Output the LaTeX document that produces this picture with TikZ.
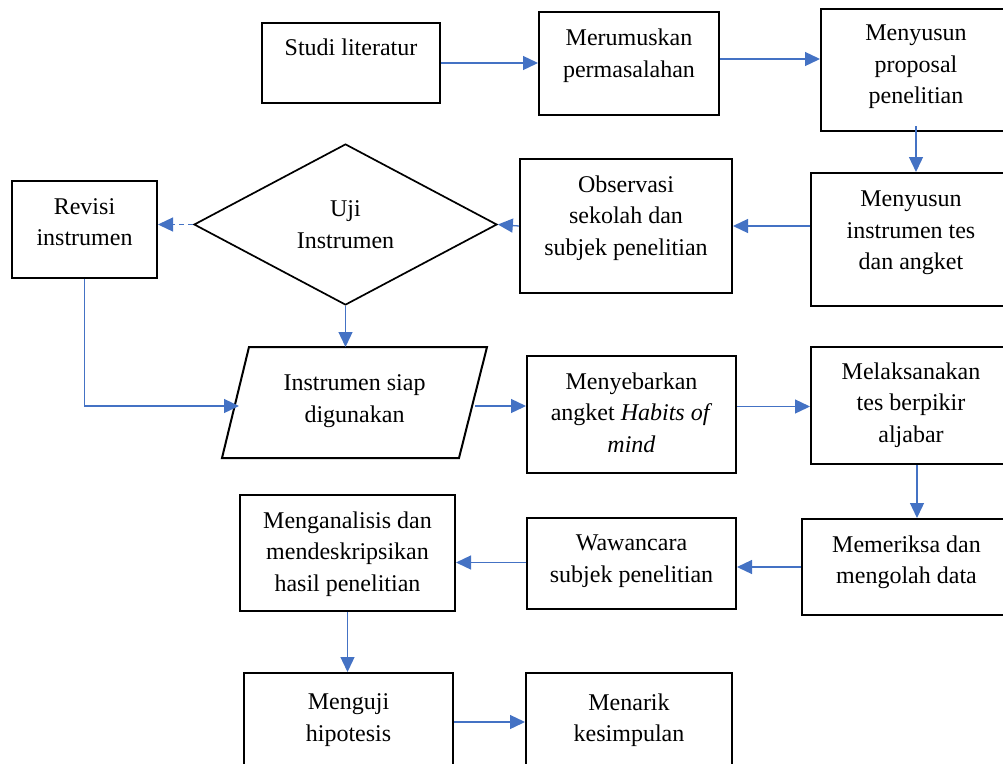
\documentclass[tikz,border=0pt]{standalone}
\usepackage{fontspec}
\setmainfont{Liberation Serif}
\usetikzlibrary{shapes.geometric,arrows.meta}
\definecolor{linkblue}{HTML}{4472C4}
\begin{document}
\begin{tikzpicture}[x=1pt,y=-1pt,
  box/.style={draw,rectangle,line width=2pt,inner sep=0pt},
  txt/.style={anchor=north,align=center,inner sep=0pt,font=\fontsize{24}{31.5}\selectfont},
  dia/.style={draw,diamond,line width=1.7pt,inner sep=0pt,aspect=1.88,
    minimum width=303pt,minimum height=161pt,align=center,font=\fontsize{24}{31.5}\selectfont},
  flow/.style={linkblue,line width=1.3pt,-{Triangle[length=15pt,width=14pt]}},
  dashflow/.style={flow,dash pattern=on 5pt off 4pt}]
\useasboundingbox (0,0) rectangle (1003,763);
\clip (0,0) rectangle (1003,763);

% boxes
\node[box,minimum width=178pt,minimum height=80pt] (s1) at (351,63) {};
\node[txt] (s1t) at ([yshift=-17pt]s1.north) {Studi literatur};

\node[box,minimum width=180pt,minimum height=103pt] (s2) at (629,63.5) {};
\node[txt] (s2t) at ([yshift=-18pt]s2.north) {Merumuskan\\permasalahan};

\node[box,minimum width=190pt,minimum height=122pt] (s3) at (916,70) {};
\node[txt] (s3t) at ([yshift=-17pt]s3.north) {Menyusun\\proposal\\penelitian};

\node[box,minimum width=200pt,minimum height=133pt] (s4) at (911,239.5) {};
\node[txt] (s4t) at ([yshift=-19pt]s4.north) {Menyusun\\instrumen tes\\dan angket};

\node[box,minimum width=212pt,minimum height=134pt] (s5) at (626,226) {};
\node[txt] (s5t) at ([yshift=-17.5pt]s5.north) {Observasi\\sekolah dan\\subjek penelitian};

\node[dia] (d) at (345.5,224.5) {Uji\\Instrumen};

\node[box,minimum width=145pt,minimum height=97pt] (r) at (84.5,229.5) {};
\node[txt] (rt) at ([yshift=-18pt]r.north) {Revisi\\instrumen};

% parallelogram
\coordinate (pTL) at (249,347);
\coordinate (pTR) at (487,347);
\coordinate (pBR) at (459,458);
\coordinate (pBL) at (222,458);
\draw[line width=2pt] (pTL) -- (pTR) -- (pBR) -- (pBL) -- cycle;
\node[txt,anchor=center] (p) at (354.5,401) {Instrumen siap\\digunakan};
\coordinate (pin) at (239,406);
\coordinate (pout) at (475,406);

\node[box,minimum width=209pt,minimum height=117pt] (m7) at (631.5,414.5) {};
\node[txt] (m7t) at ([yshift=-17.5pt]m7.north) {Menyebarkan\\angket \textit{Habits of}\\\textit{mind}};

\node[box,minimum width=200pt,minimum height=117pt] (m8) at (911,405.5) {};
\node[txt] (m8t) at ([yshift=-16.5pt]m8.north) {Melaksanakan\\tes berpikir\\aljabar};

\node[box,minimum width=209pt,minimum height=96pt] (m9) at (906.5,567) {};
\node[txt] (m9t) at ([yshift=-17.5pt]m9.north) {Memeriksa dan\\mengolah data};

\node[box,minimum width=209pt,minimum height=91pt] (m10) at (631.5,563.5) {};
\node[txt] (m10t) at ([yshift=-18pt]m10.north) {Wawancara\\subjek penelitian};

\node[box,minimum width=215pt,minimum height=116pt] (m11) at (347.5,553) {};
\node[txt] (m11t) at ([yshift=-17.5pt]m11.north) {Menganalisis dan\\mendeskripsikan\\hasil penelitian};

\node[box,minimum width=209pt,minimum height=98pt] (m12) at (348.5,722) {};
\node[txt] (m12t) at ([yshift=-21.5pt]m12.north) {Menguji\\hipotesis};

\node[box,minimum width=206pt,minimum height=98pt] (m13) at (629,722) {};
\node[txt] (m13t) at ([yshift=-21.5pt]m13.north) {Menarik\\kesimpulan};

% connectors
\draw[flow] (s1.east) -- (s1.east -| s2.west);
\draw[flow] ([yshift=4.5pt]s2.east) -- ([yshift=4.5pt]s2.east -| s3.west);
\draw[flow] ([yshift=6pt]s3.south) -- (s3.south |- s4.north);
\draw[flow] (s4.west |- s5.east) -- (s5.east);
\draw[flow] (s5.west) -- (d.east);
\draw[dashflow] (d.west) -- (d.west -| r.east);
\draw[flow] (r.south) |- (pin);
\draw[flow] (d.south) -- (d.south |- pTL);
\draw[flow] (pout) -- (pout -| m7.west);
\draw[flow] ([yshift=8pt]m7.east) -- ([yshift=8pt]m7.east -| m8.west);
\draw[flow] ([xshift=6pt]m8.south) -- ([xshift=6pt]m8.south |- m9.north);
\draw[flow] (m9.west) -- (m9.west -| m10.east);
\draw[flow] ([yshift=1pt]m10.west) -- ([yshift=1pt]m10.west -| m11.east);
\draw[flow] (m11.south) -- (m11.south |- m12.north);
\draw[flow] (m12.east) -- (m12.east -| m13.west);
\end{tikzpicture}
\end{document}
